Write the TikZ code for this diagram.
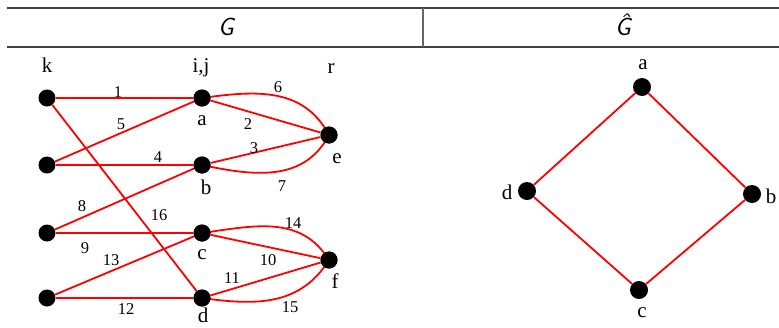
\documentclass[tikz,border=0pt]{standalone}
\usepackage{fontspec}
\setmainfont{Liberation Serif}
\begin{document}
\begin{tikzpicture}[x=1pt,y=1pt,
  vtx/.style={circle,fill=black,minimum size=17pt,inner sep=0pt},
  edge/.style={red,line width=1.8pt},
  elab/.style={font=\fontsize{16.5}{16.5}\selectfont,inner sep=0pt},
  vlab/.style={font=\fontsize{21}{21}\selectfont,inner sep=0pt},
  rule/.style={draw=black!75,line width=1.3pt},
  head/.style={font=\fontsize{25}{25}\selectfont\sffamily\itshape,inner sep=0pt}]
\useasboundingbox (0,0) rectangle (779,-327);
% header table
\coordinate (tl) at (7,-8);
\coordinate (tr) at (779,-8);
\coordinate (bl) at (7,-47);
\coordinate (br) at (779,-47);
\coordinate (dt) at (423,-8);
\coordinate (db) at (423,-47);
\draw[rule] (tl) -- (tr);
\draw[rule] (bl) -- (br);
\draw[draw=black!60,line width=2pt] (dt) -- (db);
\node[head] (hG) at (226,-27) {G};
\node[head] (hGh) at (623,-25) {Ĝ};
% left graph: column labels
\node[vlab] (lk) at (47,-65) {k};
\node[vlab] (lij) at (201,-68) {i,j};
\node[vlab] (lr) at (331,-69) {r};
% vertices
\node[vtx] (k1) at (47,-98) {};
\node[vtx] (k2) at (47,-165) {};
\node[vtx] (k3) at (47,-233) {};
\node[vtx] (k4) at (47,-298) {};
\node[vtx] (a) at (202,-98) {};
\node[vtx] (b) at (202,-165) {};
\node[vtx] (c) at (202,-233) {};
\node[vtx] (d) at (202,-298) {};
\node[vtx] (e) at (329,-135) {};
\node[vtx] (f) at (329,-260) {};
% vertex names
\node[vlab] (la) at (202,-121) {a};
\node[vlab] (lb) at (206,-187) {b};
\node[vlab] (lc) at (202,-255) {c};
\node[vlab] (ld) at (203,-315) {d};
\node[vlab] (le) at (337,-159) {e};
\node[vlab] (lf) at (335,-281) {f};
% edges
\draw[edge] (k1) -- (a);
\draw[edge] (k2) -- (a);
\draw[edge] (k2) -- (b);
\draw[edge] (k3) -- (b);
\draw[edge] (k3) -- (c);
\draw[edge] (k4) -- (c);
\draw[edge] (k4) -- (d);
\draw[edge] (k1) -- (d);
\draw[edge] (a) -- (e);
\draw[edge] (b) -- (e);
\draw[edge] (c) -- (f);
\draw[edge] (d) -- (f);
\draw[edge] (a.center) to[out=8,in=118,looseness=1.05] (e.center);
\draw[edge] (b.center) to[out=-12,in=-118,looseness=1.05] (e.center);
\draw[edge] (c.center) to[out=8,in=122,looseness=1.05] (f.center);
\draw[edge] (d.center) to[out=-8,in=-122,looseness=1.05] (f.center);
\node[vtx] at (a) {};
\node[vtx] at (b) {};
\node[vtx] at (c) {};
\node[vtx] at (d) {};
\node[vtx] at (e) {};
\node[vtx] at (f) {};
% edge labels
\node[elab] (n1) at (118,-92) {1};
\node[elab] (n5) at (121,-124) {5};
\node[elab] (n4) at (158,-157) {4};
\node[elab] (n8) at (82,-206) {8};
\node[elab] (n16) at (159,-215) {16};
\node[elab] (n9) at (85,-248) {9};
\node[elab] (n13) at (111,-260) {13};
\node[elab] (n12) at (126,-309) {12};
\node[elab] (n6) at (278,-87) {6};
\node[elab] (n2) at (248,-124) {2};
\node[elab] (n3) at (254,-148) {3};
\node[elab] (n7) at (282,-186) {7};
\node[elab] (n14) at (293,-223) {14};
\node[elab] (n10) at (268,-260) {10};
\node[elab] (n11) at (232,-278) {11};
\node[elab] (n15) at (290,-307) {15};
% right graph
\node[vtx,minimum size=18pt] (ra) at (642,-87) {};
\node[vtx,minimum size=18pt] (rd) at (527,-191) {};
\node[vtx,minimum size=18pt] (rb) at (752,-194) {};
\node[vtx,minimum size=18pt] (rc) at (639,-290) {};
\draw[edge] (ra) -- (rb);
\draw[edge] (rb) -- (rc);
\draw[edge] (rc) -- (rd);
\draw[edge] (rd) -- (ra);
\node[vlab] (lra) at (643,-65) {a};
\node[vlab] (lrd) at (507,-192) {d};
\node[vlab] (lrb) at (771,-196) {b};
\node[vlab] (lrc) at (642,-313) {c};
\end{tikzpicture}
\end{document}
